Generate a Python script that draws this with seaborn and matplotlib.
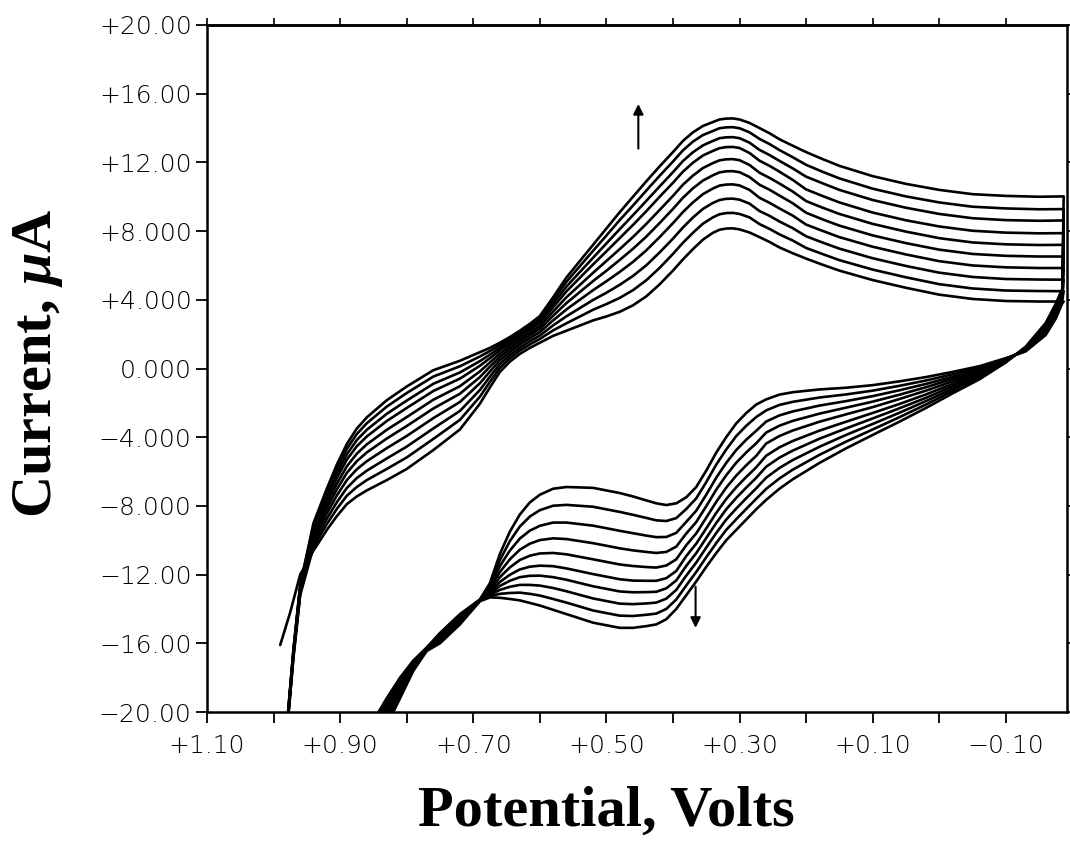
import numpy as np
import pandas as pd
import matplotlib
matplotlib.use("Agg")
import matplotlib.pyplot as plt
import seaborn as sns

nan = np.nan

# Potentials (V) sampled along the sweep from +1.0 V towards -0.19 V
UP_V = [0.99, 0.98, 0.97, 0.96, 0.94, 0.92, 0.905, 0.89, 0.875, 0.86, 0.83, 0.80,
        0.76, 0.72, 0.69, 0.675, 0.66, 0.645, 0.63, 0.615, 0.60, 0.58, 0.56, 0.52,
        0.50, 0.48, 0.46, 0.44, 0.42, 0.40, 0.385, 0.37, 0.355, 0.34, 0.33, 0.32,
        0.31, 0.30, 0.285, 0.27, 0.255, 0.24, 0.22, 0.20, 0.175, 0.15, 0.10, 0.05,
        0.00, -0.05, -0.10, -0.15, -0.187]
# Potentials (V) sampled along the return sweep from -0.19 V towards +0.9 V
DN_V = [-0.185, -0.175, -0.16, -0.13, -0.10, -0.06, -0.02, 0.02, 0.06, 0.10,
        0.14, 0.18, 0.22, 0.24, 0.26, 0.275, 0.29, 0.305, 0.32, 0.335,
        0.35, 0.365, 0.38, 0.395, 0.41, 0.425, 0.44, 0.46, 0.48, 0.52,
        0.56, 0.58, 0.60, 0.615, 0.63, 0.645, 0.66, 0.675, 0.69, 0.72,
        0.75, 0.77, 0.79, 0.81, 0.83, 0.85, 0.90]

# Initial potential of the very first scan
START_V = [0.99, 0.975]
START_I = [-16.1, -14.2]

# Current (uA) of each cycle on the forward sweep
up_01 = [nan, nan, nan, -12.0, -10.6, -9.4, -8.6, -7.9, -7.45, -7.1, -6.5, -5.85, -4.75, -3.55, -2.05, -1.1, -0.2, 0.4, 0.85, 1.2, 1.5, 1.9, 2.2, 2.8, 3.03, 3.3, 3.68, 4.2, 4.9, 5.7, 6.35, 6.95, 7.5, 7.9, 8.08, 8.15, 8.16, 8.1, 7.92, 7.65, 7.37, 7.05, 6.71, 6.4, 6.04, 5.7, 5.15, 4.7, 4.3, 4.05, 3.93, 3.9, 3.9]
up_02 = [-26, -21.2, -16.8, -13.2, -10.38, -9.06, -8.18, -7.41, -6.9, -6.5, -5.85, -5.18, -4.1, -2.99, -1.64, -0.78, 0.04, 0.6, 1.04, 1.4, 1.72, 2.22, 2.63, 3.42, 3.75, 4.11, 4.56, 5.14, 5.86, 6.67, 7.32, 7.9, 8.43, 8.8, 8.98, 9.05, 9.06, 9.0, 8.8, 8.41, 8.13, 7.81, 7.45, 7.02, 6.66, 6.31, 5.76, 5.31, 4.91, 4.66, 4.54, 4.51, 4.5]
up_03 = [-26, -21.15, -16.7, -13.1, -10.17, -8.75, -7.79, -6.96, -6.38, -5.95, -5.24, -4.55, -3.49, -2.47, -1.25, -0.48, 0.26, 0.79, 1.21, 1.58, 1.92, 2.51, 3.04, 3.99, 4.41, 4.87, 5.39, 6.01, 6.76, 7.56, 8.21, 8.79, 9.29, 9.64, 9.81, 9.88, 9.89, 9.83, 9.6, 9.17, 8.89, 8.56, 8.17, 7.7, 7.33, 6.98, 6.42, 5.97, 5.58, 5.33, 5.21, 5.18, 5.17]
up_04 = [-26, -21.1, -16.6, -13.0, -9.96, -8.44, -7.4, -6.5, -5.87, -5.4, -4.64, -3.93, -2.89, -1.95, -0.86, -0.18, 0.48, 0.97, 1.39, 1.76, 2.12, 2.8, 3.44, 4.56, 5.08, 5.62, 6.21, 6.88, 7.65, 8.46, 9.11, 9.67, 10.15, 10.48, 10.65, 10.71, 10.72, 10.66, 10.4, 9.94, 9.65, 9.32, 8.9, 8.38, 8.01, 7.65, 7.09, 6.64, 6.25, 6.0, 5.89, 5.85, 5.85]
up_05 = [-26, -21.05, -16.55, -12.95, -9.77, -8.15, -7.04, -6.08, -5.4, -4.89, -4.08, -3.35, -2.33, -1.47, -0.5, 0.1, 0.68, 1.14, 1.55, 1.93, 2.31, 3.07, 3.81, 5.09, 5.69, 6.32, 6.97, 7.68, 8.47, 9.29, 9.94, 10.49, 10.94, 11.25, 11.42, 11.48, 11.49, 11.43, 11.15, 10.7, 10.41, 10.07, 9.62, 9.07, 8.68, 8.32, 7.75, 7.3, 6.92, 6.67, 6.56, 6.52, 6.52]
up_06 = [-26, -21.0, -16.5, -12.9, -9.59, -7.89, -6.71, -5.7, -4.96, -4.42, -3.57, -2.83, -1.82, -1.03, -0.17, 0.35, 0.87, 1.3, 1.7, 2.08, 2.48, 3.32, 4.15, 5.57, 6.26, 6.95, 7.66, 8.42, 9.23, 10.05, 10.7, 11.23, 11.67, 11.96, 12.12, 12.18, 12.19, 12.13, 11.85, 11.4, 11.1, 10.77, 10.3, 9.75, 9.36, 9.0, 8.42, 7.97, 7.59, 7.34, 7.23, 7.19, 7.2]
up_07 = [-26, -20.95, -16.45, -12.8, -9.42, -7.62, -6.38, -5.31, -4.53, -3.96, -3.06, -2.3, -1.31, -0.59, 0.16, 0.6, 1.06, 1.46, 1.85, 2.24, 2.65, 3.57, 4.49, 6.06, 6.82, 7.59, 8.36, 9.16, 10.0, 10.81, 11.46, 11.98, 12.4, 12.67, 12.83, 12.89, 12.9, 12.84, 12.55, 12.1, 11.8, 11.46, 10.98, 10.43, 10.04, 9.67, 9.08, 8.63, 8.27, 8.02, 7.91, 7.87, 7.88]
up_08 = [-26, -20.9, -16.4, -12.7, -9.27, -7.41, -6.11, -5.0, -4.17, -3.57, -2.64, -1.87, -0.89, -0.23, 0.43, 0.81, 1.21, 1.59, 1.97, 2.36, 2.79, 3.77, 4.77, 6.45, 7.28, 8.11, 8.93, 9.76, 10.6, 11.43, 12.08, 12.59, 12.99, 13.25, 13.41, 13.46, 13.47, 13.41, 13.15, 12.73, 12.43, 12.09, 11.65, 11.17, 10.78, 10.4, 9.81, 9.36, 9.0, 8.75, 8.64, 8.6, 8.62]
up_09 = [-26, -20.85, -16.35, -12.65, -9.13, -7.19, -5.84, -4.68, -3.82, -3.19, -2.22, -1.43, -0.47, 0.13, 0.7, 1.02, 1.36, 1.72, 2.09, 2.49, 2.93, 3.97, 5.05, 6.85, 7.74, 8.64, 9.49, 10.36, 11.22, 12.05, 12.7, 13.21, 13.59, 13.83, 13.99, 14.04, 14.05, 13.99, 13.75, 13.37, 13.07, 12.72, 12.3, 11.86, 11.45, 11.07, 10.47, 10.02, 9.67, 9.42, 9.32, 9.27, 9.28]
up_10 = [-26, -20.8, -16.3, -12.6, -9.0, -7.0, -5.6, -4.4, -3.5, -2.85, -1.85, -1.05, -0.1, 0.45, 0.95, 1.2, 1.5, 1.83, 2.2, 2.6, 3.05, 4.15, 5.3, 7.2, 8.15, 9.1, 10.0, 10.9, 11.77, 12.6, 13.25, 13.75, 14.12, 14.35, 14.5, 14.55, 14.56, 14.5, 14.3, 14.0, 13.7, 13.35, 12.97, 12.6, 12.19, 11.8, 11.2, 10.75, 10.4, 10.15, 10.05, 10.0, 10.02]

# Current (uA) of each cycle on the return sweep
dn_01 = [3.8, 2.9, 1.95, 1.0, 0.6, 0.13, -0.2, -0.5, -0.75, -0.97, -1.12, -1.22, -1.38, -1.52, -1.8, -2.1, -2.6, -3.2, -4.0, -4.9, -5.95, -6.9, -7.5, -7.85, -7.95, -7.85, -7.68, -7.45, -7.25, -6.95, -6.9, -7.0, -7.35, -7.8, -8.5, -9.5, -10.8, -12.5, -13.45, -14.3, -15.4, -16.25, -17.0, -18.0, -19.2, -20.5, -24.5]
dn_02 = [4.0, 3.05, 2.05, 1.03, 0.57, 0.05, -0.34, -0.7, -1.01, -1.29, -1.51, -1.69, -1.94, -2.12, -2.44, -2.83, -3.34, -3.94, -4.72, -5.6, -6.62, -7.56, -8.18, -8.71, -8.88, -8.84, -8.7, -8.52, -8.35, -8.05, -7.94, -7.99, -8.25, -8.62, -9.2, -10.05, -11.16, -12.62, -13.46, -14.37, -15.47, -16.27, -17.07, -18.13, -19.38, -20.7, -24.8]
dn_03 = [4.1, 3.15, 2.15, 1.06, 0.55, -0.04, -0.48, -0.9, -1.27, -1.61, -1.9, -2.16, -2.5, -2.73, -3.09, -3.63, -4.15, -4.75, -5.5, -6.36, -7.35, -8.28, -8.93, -9.57, -9.81, -9.82, -9.73, -9.59, -9.45, -9.15, -8.97, -8.97, -9.16, -9.44, -9.9, -10.6, -11.51, -12.73, -13.47, -14.43, -15.53, -16.29, -17.13, -18.27, -19.56, -20.9, -25.05]
dn_04 = [4.2, 3.25, 2.25, 1.09, 0.52, -0.12, -0.61, -1.09, -1.53, -1.93, -2.28, -2.63, -3.05, -3.33, -3.73, -4.36, -4.89, -5.49, -6.22, -7.06, -8.02, -8.94, -9.61, -10.37, -10.68, -10.74, -10.68, -10.59, -10.47, -10.17, -9.93, -9.89, -9.99, -10.2, -10.55, -11.11, -11.85, -12.84, -13.48, -14.5, -15.6, -16.31, -17.2, -18.4, -19.73, -21.1, -25.3]
dn_05 = [4.3, 3.35, 2.3, 1.12, 0.49, -0.21, -0.75, -1.29, -1.78, -2.25, -2.67, -3.1, -3.61, -3.93, -4.37, -5.09, -5.64, -6.24, -6.94, -7.77, -8.69, -9.6, -10.29, -11.11, -11.47, -11.59, -11.56, -11.5, -11.41, -11.11, -10.82, -10.74, -10.77, -10.9, -11.15, -11.58, -12.15, -12.94, -13.49, -14.57, -15.67, -16.33, -17.27, -18.53, -19.91, -21.3, -25.6]
dn_06 = [4.4, 3.45, 2.4, 1.15, 0.46, -0.3, -0.9, -1.51, -2.07, -2.59, -3.1, -3.62, -4.22, -4.59, -5.08, -5.76, -6.32, -6.92, -7.6, -8.41, -9.31, -10.2, -10.92, -11.79, -12.21, -12.36, -12.36, -12.35, -12.27, -11.97, -11.64, -11.51, -11.48, -11.54, -11.7, -12.01, -12.43, -13.03, -13.5, -14.63, -15.73, -16.35, -17.33, -18.67, -20.09, -21.5, -25.85]
dn_07 = [4.5, 3.55, 2.45, 1.18, 0.43, -0.39, -1.04, -1.71, -2.32, -2.91, -3.49, -4.09, -4.78, -5.19, -5.72, -6.37, -6.94, -7.54, -8.2, -9.0, -9.87, -10.75, -11.49, -12.34, -12.8, -13.0, -13.02, -13.03, -12.98, -12.68, -12.3, -12.15, -12.06, -12.07, -12.15, -12.36, -12.66, -13.11, -13.51, -14.7, -15.8, -16.37, -17.4, -18.8, -20.27, -21.7, -26.1]
dn_08 = [4.55, 3.6, 2.5, 1.21, 0.41, -0.47, -1.18, -1.9, -2.58, -3.23, -3.87, -4.56, -5.33, -5.79, -6.36, -6.98, -7.56, -8.16, -8.8, -9.58, -10.43, -11.3, -12.06, -12.89, -13.4, -13.63, -13.68, -13.72, -13.69, -13.39, -12.97, -12.78, -12.64, -12.6, -12.6, -12.71, -12.89, -13.18, -13.52, -14.77, -15.87, -16.39, -17.47, -18.93, -20.44, -21.9, -26.4]
dn_09 = [4.6, 3.7, 2.6, 1.24, 0.38, -0.56, -1.31, -2.1, -2.84, -3.55, -4.26, -5.03, -5.89, -6.4, -7.01, -7.59, -8.18, -8.78, -9.4, -10.17, -10.99, -11.85, -12.63, -13.45, -14.0, -14.27, -14.34, -14.41, -14.39, -14.09, -13.63, -13.42, -13.22, -13.12, -13.05, -13.07, -13.12, -13.26, -13.53, -14.83, -15.93, -16.41, -17.53, -19.07, -20.62, -22.1, -26.7]
dn_10 = [4.65, 3.75, 2.65, 1.27, 0.35, -0.64, -1.45, -2.3, -3.1, -3.87, -4.65, -5.5, -6.45, -7.0, -7.65, -8.2, -8.8, -9.4, -10.0, -10.75, -11.55, -12.4, -13.2, -14.0, -14.6, -14.9, -15.0, -15.1, -15.1, -14.8, -14.3, -14.05, -13.8, -13.65, -13.5, -13.42, -13.35, -13.33, -13.55, -14.9, -16.0, -16.45, -17.6, -19.2, -20.8, -22.3, -27.0]

# Axis ticks and labels
Y_TICKS = [20, 16, 12, 8, 4, 0, -4, -8, -12, -16, -20]
Y_TICK_LABELS = ["+20.00", "+16.00", "+12.00", "+8.000", "+4.000", "0.000",
                 "\u22124.000", "\u22128.000", "\u221212.00", "\u221216.00", "\u221220.00"]
X_TICKS = [1.10, 0.90, 0.70, 0.50, 0.30, 0.10, -0.10]
X_TICK_LABELS = ["+1.10", "+0.90", "+0.70", "+0.50", "+0.30", "+0.10", "\u22120.10"]
X_MINOR = [1.00, 0.80, 0.60, 0.40, 0.20, 0.00]
X_TOP = [1.10, 1.00, 0.90, 0.80, 0.70, 0.60, 0.50, 0.40, 0.30, 0.20, 0.10, 0.00, -0.10]

X_LABEL = "Potential, Volts"
Y_LABEL = "Current, $\\mu$A"

# Direction-of-growth arrows (potential, current from -> to)
ARROW_UP = (0.452, 12.8, 15.4)
ARROW_DOWN = (0.366, -12.7, -15.1)

# Long-form table: one continuous trace per cycle (forward then return sweep)
forward = [up_01, up_02, up_03, up_04, up_05, up_06, up_07, up_08, up_09, up_10]
backward = [dn_01, dn_02, dn_03, dn_04, dn_05, dn_06, dn_07, dn_08, dn_09, dn_10]
rows = []
for n, (up, dn) in enumerate(zip(forward, backward), start=1):
    assert len(up) == len(UP_V) and len(dn) == len(DN_V)
    if n == 1:
        rows += [(v, i, n) for v, i in zip(START_V, START_I)]
    rows += [(v, i, n) for v, i in zip(UP_V, up) if not np.isnan(i)]
    rows += [(v, i, n) for v, i in zip(DN_V, dn)]
df = pd.DataFrame(rows, columns=["potential", "current", "cycle"])

sns.set_style("ticks")
plt.rcParams["font.family"] = ["DejaVu Sans"]
plt.rcParams["text.color"] = "black"
plt.rcParams["mathtext.fontset"] = "custom"
plt.rcParams["mathtext.it"] = "Liberation Serif:italic:bold"
plt.rcParams["mathtext.rm"] = "Liberation Serif:bold"
plt.rcParams["mathtext.bf"] = "Liberation Serif:bold"

W, H = 1070, 844
fig = plt.figure(figsize=(W / 100, H / 100), dpi=100)
fig.patch.set_facecolor("white")
ax = fig.add_axes([207 / W, 1 - 712 / H, 860 / W, 687 / H])

sns.lineplot(data=df, x="potential", y="current", units="cycle", estimator=None,
             sort=False, color="black", linewidth=1.9, legend=False, ax=ax,
             solid_joinstyle="round", solid_capstyle="round")

ax.set_xlim(1.10, -0.192)
ax.set_ylim(-20, 20)

for side in ["left", "right", "top", "bottom"]:
    ax.spines[side].set_visible(True)
    ax.spines[side].set_linewidth(1.8)
    ax.spines[side].set_color("black")

ax.set_xticks(X_TICKS)
ax.set_xticklabels(X_TICK_LABELS)
ax.set_xticks(X_MINOR, minor=True)
ax.set_yticks(Y_TICKS)
ax.set_yticklabels(Y_TICK_LABELS)
ax.tick_params(axis="x", which="both", direction="out", length=8, width=1.3,
               color="black", labelcolor="black", pad=8, labelsize=18, top=False)
ax.tick_params(axis="y", which="both", direction="out", length=8, width=1.3,
               color="black", labelcolor="black", pad=3, labelsize=18, right=True)
for lbl in ax.get_xticklabels() + ax.get_yticklabels():
    lbl.set_fontweight("light")

top = ax.secondary_xaxis("top")
top.set_xticks(X_TOP)
top.tick_params(axis="x", direction="out", length=5, width=1.2, color="black",
                labeltop=False)
top.spines["top"].set_linewidth(1.8)
top.spines["top"].set_color("black")

ax.set_xlabel("")
ax.set_ylabel("")

for v, y0, y1 in (ARROW_UP, ARROW_DOWN):
    ax.annotate("", xy=(v, y1), xytext=(v, y0),
                arrowprops=dict(arrowstyle="-|>", color="black", lw=1.5,
                                mutation_scale=15, shrinkA=0, shrinkB=0))

fig.text(606 / W, 1 - 812 / H, X_LABEL, ha="center", va="center", color="black",
         fontsize=42, fontweight="bold", family="Liberation Serif")
fig.text(38 / W, 1 - 363 / H, Y_LABEL, ha="center", va="center", rotation=90,
         color="black", fontsize=42, fontweight="bold", family="Liberation Serif")

fig.savefig("out.png", dpi=100, facecolor="white")
